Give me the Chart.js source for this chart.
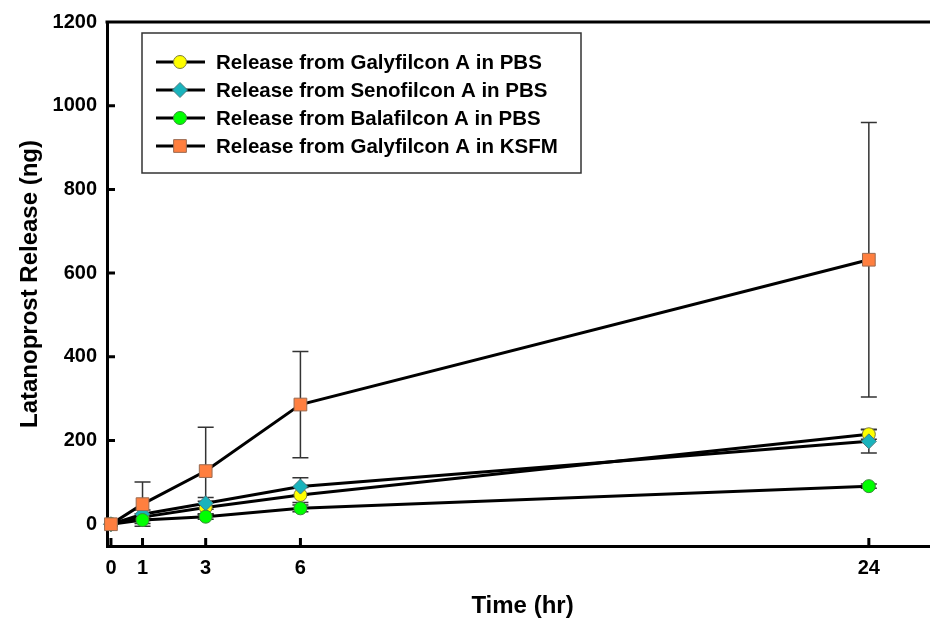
<!DOCTYPE html>
<html lang="en">
<head>
<meta charset="UTF-8" />
<title>Latanoprost Release</title>
<script src="https://cdn.jsdelivr.net/npm/chart.js"></script>
<style>
  html, body { margin: 0; padding: 0; background: #fff; overflow: hidden; }
  #wrap { width: 948px; height: 631px; }
</style>
</head>
<body>
<div id="wrap"><canvas id="chart"></canvas></div>
<script>
// data
const times = [0, 1, 3, 6, 24];
const galyPBS = [0, 17, 40, 70, 215];
const galyPBSErr = [0, 8, 15, 18, 12];
const senoPBS = [0, 24, 50, 90, 198];
const senoPBSErr = [0, 10, 14, 21, 28];
const balaPBS = [0, 10, 18, 38, 91];
const balaPBSErr = [0, 8, 6, 8, 5];
const galyKSFM = [0, 48, 127, 286, 632];
const galyKSFMErr = [0, 53, 105, 127, 328];

const xTicks = [0, 1, 3, 6, 24];
const yTicks = [0, 200, 400, 600, 800, 1000, 1200];

const FONT = '"Liberation Sans", Arial, sans-serif';

function pts(ys) {
  return times.map((t, i) => ({ x: t, y: ys[i] }));
}

function series(label, ys, errs, style, radius, color, border, order) {
  return {
    label: label,
    data: pts(ys),
    errors: errs,
    showLine: true,
    borderColor: '#000',
    borderWidth: 3,
    pointStyle: style,
    pointRadius: radius,
    pointBackgroundColor: color,
    pointBorderColor: border,
    pointBorderWidth: 1,
    order: order,
    clip: false
  };
}

// error bars, drawn under the markers
const errorBars = {
  id: 'errorBars',
  beforeDatasetsDraw(chart) {
    const ctx = chart.ctx;
    const xs = chart.scales.x, ys = chart.scales.y;
    ctx.save();
    ctx.strokeStyle = '#333';
    ctx.lineWidth = 1.5;
    chart.data.datasets.forEach(ds => {
      ds.data.forEach((p, i) => {
        const e = ds.errors[i];
        if (!e) return;
        const px = xs.getPixelForValue(p.x);
        const top = ys.getPixelForValue(p.y + e);
        const bot = ys.getPixelForValue(p.y - e);
        ctx.beginPath();
        ctx.moveTo(px, top); ctx.lineTo(px, bot);
        ctx.moveTo(px - 8, top); ctx.lineTo(px + 8, top);
        ctx.moveTo(px - 8, bot); ctx.lineTo(px + 8, bot);
        ctx.stroke();
      });
    });
    ctx.restore();
  }
};

// top frame line and inward tick marks
const frame = {
  id: 'frame',
  beforeDatasetsDraw(chart) {
    const ctx = chart.ctx;
    const a = chart.chartArea;
    const xs = chart.scales.x, ys = chart.scales.y;
    ctx.save();
    ctx.strokeStyle = '#000';
    ctx.lineWidth = 3;
    ctx.beginPath();
    ctx.moveTo(a.left - 1.5, a.top); ctx.lineTo(a.right, a.top);
    xTicks.forEach(v => {
      const px = xs.getPixelForValue(v);
      ctx.moveTo(px, a.bottom); ctx.lineTo(px, a.bottom - 8);
    });
    yTicks.forEach(v => {
      const py = ys.getPixelForValue(v);
      ctx.moveTo(a.left, py); ctx.lineTo(a.left + 8, py);
    });
    ctx.stroke();
    ctx.restore();
  }
};

// legend box with line + marker samples
const legendBox = {
  id: 'legendBox',
  afterDraw(chart) {
    const ctx = chart.ctx;
    ctx.save();
    ctx.strokeStyle = '#333';
    ctx.lineWidth = 1.5;
    ctx.strokeRect(142, 33, 439, 140);
    ctx.font = 'bold 20.5px ' + FONT;
    ctx.textBaseline = 'middle';
    ctx.textAlign = 'left';
    chart.data.datasets.forEach((ds, i) => {
      const y = 62 + i * 28;
      ctx.strokeStyle = '#000';
      ctx.lineWidth = 3;
      ctx.beginPath();
      ctx.moveTo(156, y); ctx.lineTo(205, y);
      ctx.stroke();
      ctx.fillStyle = ds.pointBackgroundColor;
      ctx.strokeStyle = ds.pointBorderColor;
      ctx.lineWidth = 1;
      Chart.helpers.drawPoint(ctx, { pointStyle: ds.pointStyle, radius: ds.pointRadius, borderWidth: 1, rotation: 0 }, 180, y);
      ctx.fillStyle = '#000';
      ctx.fillText(ds.label, 216, y + 1);
    });
    ctx.restore();
  }
};

new Chart(document.getElementById('chart'), {
  type: 'scatter',
  data: {
    datasets: [
      series('Release from Galyfilcon A in PBS', galyPBS, galyPBSErr, 'circle', 6.5, '#FFFF00', '#7a7a3a', 3),
      series('Release from Senofilcon A in PBS', senoPBS, senoPBSErr, 'rectRot', 7.5, '#19B3BC', '#4a7a7e', 2),
      series('Release from Balafilcon A in PBS', balaPBS, balaPBSErr, 'circle', 6.5, '#00FF00', '#3a8a3a', 1),
      series('Release from Galyfilcon A in KSFM', galyKSFM, galyKSFMErr, 'rect', 9, '#FF7F3F', '#9a6a50', 0)
    ]
  },
  plugins: [errorBars, frame, legendBox],
  options: {
    responsive: true,
    maintainAspectRatio: false,
    animation: false,
    layout: { padding: { top: 16, left: 0, right: 0, bottom: 0 } },
    plugins: {
      legend: { display: false },
      tooltip: { enabled: false }
    },
    scales: {
      x: {
        type: 'linear',
        min: -0.125,
        max: 26.19,
        afterFit: s => { s.height = 85; },
        afterBuildTicks: s => { s.ticks = xTicks.map(v => ({ value: v })); },
        grid: { display: false, drawTicks: false },
        border: { display: true, color: '#000', width: 3 },
        ticks: {
          autoSkip: false,
          maxRotation: 0,
          padding: 10,
          color: '#000',
          callback: v => String(v),
          font: { family: FONT, size: 20, weight: 'bold' }
        },
        title: {
          display: true,
          text: 'Time (hr)',
          color: '#000',
          padding: { top: 0, bottom: 10 },
          font: { family: FONT, size: 24, weight: 'bold' }
        }
      },
      y: {
        min: -52,
        max: 1200,
        afterFit: s => { s.width = 107; },
        afterBuildTicks: s => { s.ticks = yTicks.map(v => ({ value: v })); },
        grid: { display: false, drawTicks: false },
        border: { display: true, color: '#000', width: 3 },
        ticks: {
          autoSkip: false,
          padding: 10,
          color: '#000',
          callback: v => String(v),
          font: { family: FONT, size: 20, weight: 'bold' }
        },
        title: {
          display: true,
          text: 'Latanoprost Release (ng)',
          color: '#000',
          padding: { top: 16, bottom: 0 },
          font: { family: FONT, size: 24, weight: 'bold' }
        }
      }
    }
  }
});
</script>
</body>
</html>
